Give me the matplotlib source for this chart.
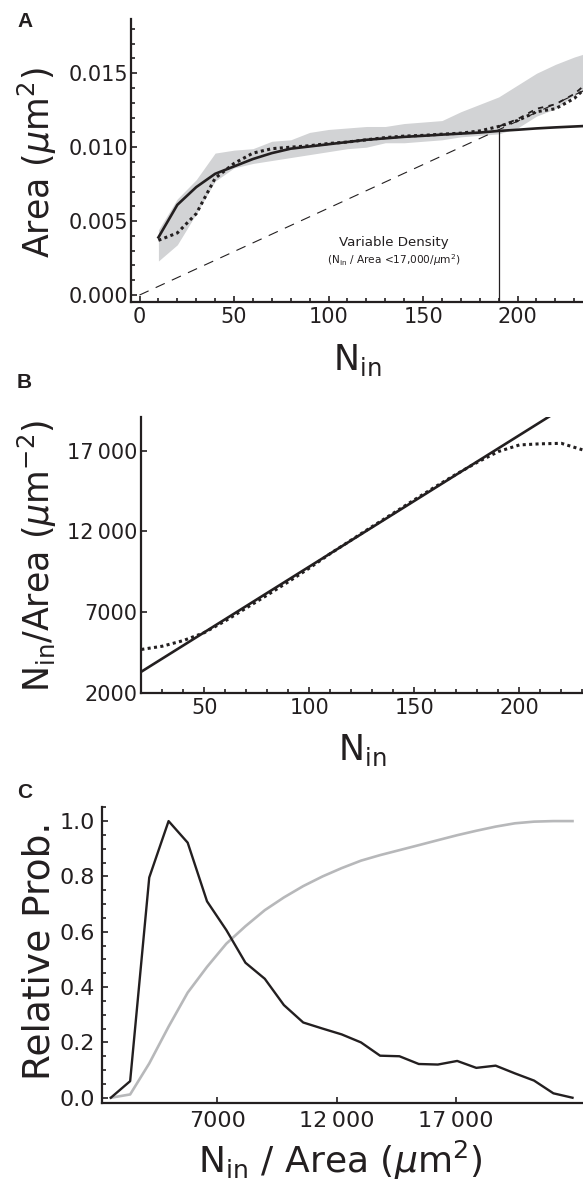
import matplotlib
matplotlib.use('Agg')
import matplotlib.pyplot as plt
from matplotlib.ticker import MultipleLocator, FixedLocator, FixedFormatter

plt.rcParams['font.family'] = 'DejaVu Sans'
plt.rcParams['mathtext.fontset'] = 'dejavusans'

INK = '#231f20'

# --- panel A: area of the region vs number of particles inside
n_in = [10, 20, 30, 40, 50, 60, 70, 80, 90, 100, 110, 120,
        130, 140, 150, 160, 170, 180, 190, 200, 210, 220, 230, 240]
area_fit = [0.0039, 0.0061, 0.0073, 0.0082, 0.0087, 0.0092, 0.0096, 0.0099,
            0.01005, 0.0102, 0.01035, 0.0105, 0.0106, 0.0107, 0.01077, 0.01085,
            0.01092, 0.01099, 0.0111, 0.01118, 0.01127, 0.01134, 0.0114, 0.01146]
area_mean = [0.0037, 0.0042, 0.0055, 0.0079, 0.0089, 0.0096, 0.0099, 0.0100,
             0.0101, 0.01025, 0.01035, 0.0105, 0.01065, 0.01075, 0.0108, 0.01088,
             0.01095, 0.0111, 0.0114, 0.0118, 0.0124, 0.0126, 0.0133, 0.0145]
area_hi = [0.0044, 0.0065, 0.0078, 0.0096, 0.0098, 0.0099, 0.0104, 0.0105,
           0.0110, 0.0112, 0.0113, 0.0114, 0.0114, 0.0116, 0.0117, 0.0118,
           0.0124, 0.0129, 0.0134, 0.0142, 0.0150, 0.0156, 0.0161, 0.0165]
area_lo = [0.0023, 0.0034, 0.0055, 0.0077, 0.0086, 0.0089, 0.0091, 0.0093,
           0.0095, 0.0097, 0.0099, 0.0100, 0.0103, 0.0103, 0.0104, 0.0105,
           0.0107, 0.0108, 0.0109, 0.0113, 0.0121, 0.0126, 0.0135, 0.0141]
n_tail = [190, 200, 210, 220, 230, 240]
area_median_tail = [0.0114, 0.0119, 0.0126, 0.0129, 0.0136, 0.0147]
density_limit = 17000          # particles per um^2
n_cross = 190.4                # where the fit meets N/Area = 17,000

# --- panel B: density vs number of particles
n_b = [20, 30, 40, 50, 60, 70, 80, 90, 100, 110, 120, 130,
       140, 150, 160, 170, 180, 190, 200, 210, 220, 230]
density_mean = [4680, 4880, 5230, 5720, 6450, 7250, 8050, 8870, 9720, 10620,
                11460, 12300, 13120, 13950, 14760, 15540, 16280, 16940, 17350,
                17420, 17450, 17050]
n_lin = [20, 240]
density_lin = [3300, 21210]

# --- panel C: distribution of densities
dens_bins = [2540, 3350, 4150, 4960, 5760, 6570, 7380, 8180, 8990, 9790,
             10600, 11410, 12210, 13020, 13820, 14630, 15440, 16240, 17050,
             17850, 18660, 19470, 20270, 21080, 21880]
prob_rel = [0.0, 0.06, 0.796, 1.0, 0.922, 0.71, 0.606, 0.488, 0.43, 0.335,
            0.272, 0.25, 0.229, 0.2, 0.152, 0.15, 0.122, 0.12, 0.133, 0.108,
            0.116, 0.088, 0.062, 0.016, 0.0]
prob_cum = [0.0, 0.012, 0.124, 0.257, 0.38, 0.473, 0.557, 0.62, 0.678, 0.724,
            0.765, 0.8, 0.83, 0.857, 0.877, 0.895, 0.913, 0.931, 0.949, 0.965,
            0.98, 0.992, 0.998, 1.0, 1.0]

W, H = 583, 1182
fig = plt.figure(figsize=(W / 100, H / 100), dpi=100)


def px_axes(left, top, right, bottom):
    return fig.add_axes([left / W, 1 - bottom / H, (right - left) / W, (bottom - top) / H])


def fx(px):
    return px / W


def fy(py):
    return 1 - py / H


def style(ax, size):
    for s in ['top', 'right']:
        ax.spines[s].set_visible(False)
    for s in ['left', 'bottom']:
        ax.spines[s].set_linewidth(1.6)
        ax.spines[s].set_color(INK)
    ax.tick_params(which='both', direction='in', color=INK, width=1.2,
                   labelsize=size, labelcolor=INK)
    ax.tick_params(which='major', length=4.5)
    ax.tick_params(which='minor', length=3)


# A
axA = px_axes(130.7, 19.3, 583, 301.7)
style(axA, 15)
axA.fill_between(n_in, area_lo, area_hi, color='#d2d3d5', lw=0, zorder=1)
axA.plot([0, 240], [0, 240 / density_limit], color=INK, lw=0.8,
         ls=(0, (9, 7)), zorder=2)
axA.vlines(n_cross, -0.001, n_cross / density_limit, color=INK, lw=0.9, zorder=2)
axA.plot(n_in, area_fit, color=INK, lw=1.9, zorder=4)
axA.plot(n_tail, area_median_tail, color=INK, lw=1.3, ls=(0, (3, 3)), zorder=3)
axA.plot(n_in, area_mean, color=INK, lw=2.2, ls=(0, (1, 1.1)), zorder=3)
axA.set_xlim(-4.66, 234.6)
axA.set_ylim(-0.00045, 0.01865)
axA.xaxis.set_major_locator(FixedLocator([0, 50, 100, 150, 200]))
axA.xaxis.set_minor_locator(MultipleLocator(10))
axA.yaxis.set_major_locator(FixedLocator([0, 0.005, 0.010, 0.015]))
axA.yaxis.set_major_formatter(FixedFormatter(['0.000', '0.005', '0.010', '0.015']))
axA.yaxis.set_minor_locator(MultipleLocator(0.001))
axA.tick_params(axis='y', pad=1.5)
axA.tick_params(axis='x', pad=4)
axA.text(134.3, 0.00332, 'Variable Density', ha='center', va='baseline',
         fontsize=9.6, color=INK)
axA.text(134.3, 0.00212, r'($\mathregular{N_{in}}$ / Area <17,000/$\mu$m$^2$)',
         ha='center', va='baseline', fontsize=7.6, color=INK)

fig.text(fx(17), fy(27), 'A', fontsize=15, fontweight='bold',
         family='Liberation Sans', color=INK)
fig.text(fx(357), fy(370), r'$\mathregular{N_{in}}$', ha='center', va='baseline',
         fontsize=25, color=INK)
fig.text(fx(50), fy(163), r'Area ($\mu$m$^2$)', rotation=90, rotation_mode='anchor',
         ha='center', va='baseline', fontsize=25, color=INK)

# B
axB = px_axes(141, 416.7, 583, 692.7)
style(axB, 15)
axB.plot(n_lin, density_lin, color=INK, lw=1.9, zorder=3)
axB.plot(n_b, density_mean, color=INK, lw=2.2, ls=(0, (1, 1.1)), zorder=2)
axB.set_xlim(19.86, 230.3)
axB.set_ylim(2000, 19100)
axB.xaxis.set_major_locator(FixedLocator([50, 100, 150, 200]))
axB.xaxis.set_minor_locator(MultipleLocator(10))
axB.yaxis.set_major_locator(FixedLocator([2000, 7000, 12000, 17000]))
axB.yaxis.set_major_formatter(FixedFormatter(['2000', '7000', '12\u2009000', '17\u2009000']))
axB.tick_params(axis='y', pad=2.5)
axB.tick_params(axis='x', pad=4)

fig.text(fx(17), fy(388), 'B', fontsize=15, fontweight='bold',
         family='Liberation Sans', color=INK)
fig.text(fx(362), fy(760), r'$\mathregular{N_{in}}$', ha='center', va='baseline',
         fontsize=25, color=INK)
fig.text(fx(50), fy(556), r'$\mathregular{N_{in}}$/Area ($\mu$m$^{-2}$)', rotation=90,
         rotation_mode='anchor', ha='center', va='baseline', fontsize=25, color=INK)

# C
axC = px_axes(101.5, 806.7, 583, 1103)
style(axC, 16)
axC.plot(dens_bins, prob_cum, color='#b7b8ba', lw=1.9, zorder=2)
axC.plot(dens_bins, prob_rel, color=INK, lw=1.7, zorder=3)
axC.set_xlim(2150, 22320)
axC.set_ylim(-0.019, 1.052)
axC.xaxis.set_major_locator(FixedLocator([7000, 12000, 17000]))
axC.xaxis.set_major_formatter(FixedFormatter(['7000', '12\u2009000', '17\u2009000']))
axC.yaxis.set_major_locator(FixedLocator([0, 0.2, 0.4, 0.6, 0.8, 1.0]))
axC.yaxis.set_major_formatter(FixedFormatter(['0.0', '0.2', '0.4', '0.6', '0.8', '1.0']))
axC.yaxis.set_minor_locator(MultipleLocator(0.05))
axC.tick_params(axis='y', pad=4.5)
axC.tick_params(axis='x', pad=6)

fig.text(fx(17), fy(798), 'C', fontsize=15, fontweight='bold',
         family='Liberation Sans', color=INK)
fig.text(fx(340), fy(1173), r'$\mathregular{N_{in}}$ / Area ($\mu$m$^2$)',
         ha='center', va='baseline', fontsize=26, color=INK)
fig.text(fx(50), fy(951), 'Relative Prob.', rotation=90, rotation_mode='anchor',
         ha='center', va='baseline', fontsize=27, color=INK)

fig.savefig('out.png', dpi=100)
